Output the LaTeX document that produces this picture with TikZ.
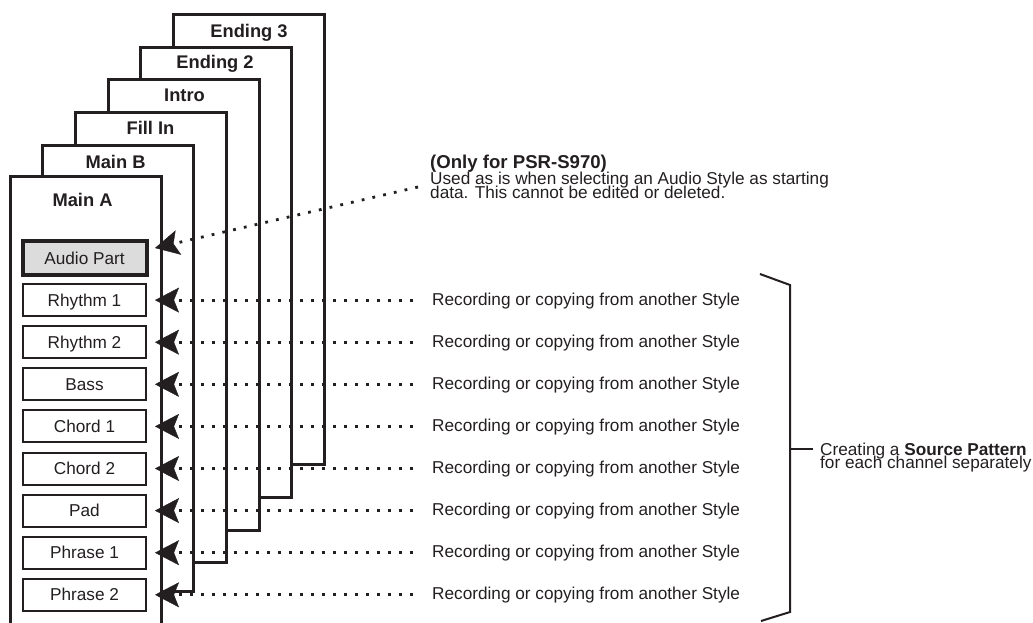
\documentclass[tikz,border=0pt]{standalone}
\usepackage{fontspec}
\setmainfont{Liberation Sans}
\usetikzlibrary{arrows.meta}
\definecolor{ink}{HTML}{231F20}
\definecolor{audiogray}{HTML}{DCDCDC}
\begin{document}
\begin{tikzpicture}[x=1pt,y=-1pt,
  frame/.style={draw=ink, fill=white, line width=3pt, anchor=north west, inner sep=0pt, outer sep=0pt, minimum width=151pt},
  ftitle/.style={anchor=base, inner sep=0pt, font=\fontsize{18.3pt}{22pt}\selectfont\bfseries, text=ink},
  chan/.style={draw=ink, fill=white, line width=2pt, minimum width=123pt, minimum height=32pt, inner sep=0pt,
    text height=12.3pt, text depth=0pt, font=\fontsize{17.2pt}{20pt}\selectfont, text=ink},
  audiobox/.style={chan, line width=4pt, fill=audiogray, minimum width=124pt, minimum height=34pt},
  conn/.style={draw=ink, line width=2.8pt, dash pattern=on 2.8pt off 8.2pt,
    -{Stealth[length=24pt, width=25pt, inset=5pt, line width=0.4pt]}},
  lbl/.style={anchor=base west, inner sep=0pt, font=\fontsize{17.2pt}{20pt}\selectfont, text=ink},
  head/.style={anchor=base west, inner sep=0pt, font=\fontsize{18.6pt}{22pt}\selectfont\bfseries, text=ink},
  brace/.style={draw=ink, line width=2pt}
]
\useasboundingbox (0,0) rectangle (1033,622);
\clip (0,0) rectangle (1033,622);

% frames, back to front
\node[frame, minimum height=450pt] (e3) at (173,14) {};
\node[frame, minimum height=450pt] (e2) at (140,47) {};
\node[frame, minimum height=451pt] (in) at (108,79) {};
\node[frame, minimum height=450pt] (fi) at (75,112) {};
\node[frame, minimum height=446.5pt] (mb) at (42,145) {};
\node[frame, minimum height=470pt] (ma) at (10,176) {};

\node[ftitle] (te3) at (249,37) {Ending 3};
\node[ftitle] (te2) at (215,68) {Ending 2};
\node[ftitle] (tin) at (184.5,101) {Intro};
\node[ftitle] (tfi) at (150.5,134) {Fill In};
\node[ftitle] (tmb) at (115.5,168) {Main B};
\node[ftitle] (tma) at (82.5,206) {Main A};

% channel boxes
\node[audiobox] (aud) at (84.5,258) {Audio Part};
\node[chan] (r1) at (84.5,300.1) {Rhythm 1};
\node[chan] (r2) at (84.5,342.2) {Rhythm 2};
\node[chan] (r3) at (84.5,384.3) {Bass};
\node[chan] (r4) at (84.5,426.4) {Chord 1};
\node[chan] (r5) at (84.5,468.5) {Chord 2};
\node[chan] (r6) at (84.5,510.6) {Pad};
\node[chan] (r7) at (84.5,552.7) {Phrase 1};
\node[chan] (r8) at (84.5,594.8) {Phrase 2};

% audio connector and note
\coordinate (da) at (418,187);
\draw[conn] (da) -- ([shift={(6.5,-10)}]aud.east);
\node[head] (hd) at (430,168.3) {(Only for PSR-S970)};
\node[lbl] (hd1) at (430,184) {Used as is when selecting an Audio Style as starting};
\node[lbl] (hd2) at (430,198.5) {data. This cannot be edited or deleted.};

% row connectors and labels
\foreach \n/\y in {1/300.1,2/342.2,3/384.3,4/426.4,5/468.5,6/510.6,7/552.7,8/594.8}{
  \coordinate (d\n) at (413,\y);
  \draw[conn] (d\n) -- ([xshift=8pt]r\n.east);
  \node[lbl] (t\n) at (432,\y+5) {Recording or copying from another Style};
}

% brace
\coordinate (b1) at (760,274);
\coordinate (b2) at (790,285);
\coordinate (b3) at (790,612);
\coordinate (b4) at (761,621);
\coordinate (bm) at (790,449);
\coordinate (bt) at (813,449);
\draw[brace] (b1) -- (b2) -- (b3) -- (b4);
\draw[brace] (bm) -- (bt);
\node[lbl] (sp1) at (820,455) {Creating a \textbf{Source Pattern}};
\node[lbl] (sp2) at (820,468.5) {for each channel separately};
\end{tikzpicture}
\end{document}
